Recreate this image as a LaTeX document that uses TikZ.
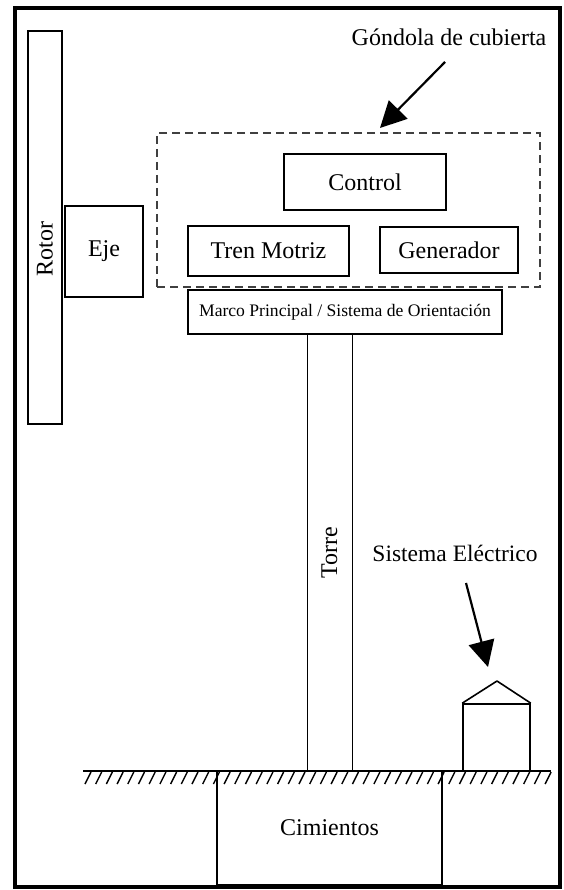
\documentclass[tikz,border=0pt]{standalone}
\usepackage{fontspec}
\setmainfont{Liberation Serif}
\usetikzlibrary{arrows.meta}

\tikzset{
  part/.style={draw, line width=1.6pt, inner sep=0pt, font=\fontsize{24}{28}\selectfont},
  bigarrow/.style={line width=2.2pt, -{Triangle[length=26pt, width=26pt]}},
  caption/.style={inner sep=0pt, font=\fontsize{24}{28}\selectfont},
}

\begin{document}
\begin{tikzpicture}[x=1pt, y=-1pt]
                \useasboundingbox (0,0) rectangle (563,890);
                % Frame
                \draw[line width=3.4pt] (15,8) rectangle (560,887);

                % Rotor and shaft
                \node[part, line width=1.4pt, minimum width=34, minimum height=393] (rotor) at (45,227.5) {};
                \node[caption, rotate=90] (rotortext) at (45,249) {Rotor};
                \node[part, line width=1.4pt, minimum width=78, minimum height=91] (eje) at (104,251.5) {Eje};

                % Nacelle
                \node[draw, dashed, dash pattern=on 8pt off 5pt, line width=2.4pt, black!75,
                    minimum width=383, minimum height=154] (nacelle) at (348.5,210) {};
                \node[part, minimum width=162, minimum height=56] (control) at (365,182) {Control};
                \node[part, minimum width=161, minimum height=50] (tren) at (268.5,251) {Tren Motriz};
                \node[part, minimum width=138, minimum height=46] (generador) at (449,250) {Generador};
                \node[part, minimum width=314, minimum height=44, font=\fontsize{17.6}{20}\selectfont] (marco) at (345,312)
                    {Marco Principal / Sistema de Orientación};

                % Tower
                \node[part, line width=1pt, rotate=90, minimum width=437, minimum height=45] (torre) at (329.5,553) {Torre};

                % Foundation and ground
                \node[part, minimum width=225, minimum height=113] (cimientos) at (329.5,828) {Cimientos};
                \coordinate (gl) at (83,771);
                \coordinate (gr) at (551,771);
                \draw[line width=1.4pt] (gl) -- (gr);
                \foreach \x in {91,101.7,...,552} {
                        \draw[line width=1.4pt] (\x,772) -- (\x-6,784);
                    }

                % Electrical system
                \node[part, minimum width=67, minimum height=67] (casa) at (496.5,737.5) {};
                \coordinate (techo) at (497,681);
                \draw[line width=1.6pt, line join=round] (casa.north west) -- (techo) -- (casa.north east);

                % Labels and arrows
                \node[caption] (gondola) at (449,37) {Góndola de cubierta};
                \coordinate (gtail) at (445,62);
                \coordinate (gtip) at (380,128);
                \draw[bigarrow] (gtail) -- (gtip);

                \node[caption, font=\fontsize{23.5}{27}\selectfont] (electrico) at (455,553) {Sistema Eléctrico};
                \coordinate (etail) at (466,583);
                \coordinate (etip) at (488,667);
                \draw[bigarrow] (etail) -- (etip);
            \end{tikzpicture}
\end{document}
